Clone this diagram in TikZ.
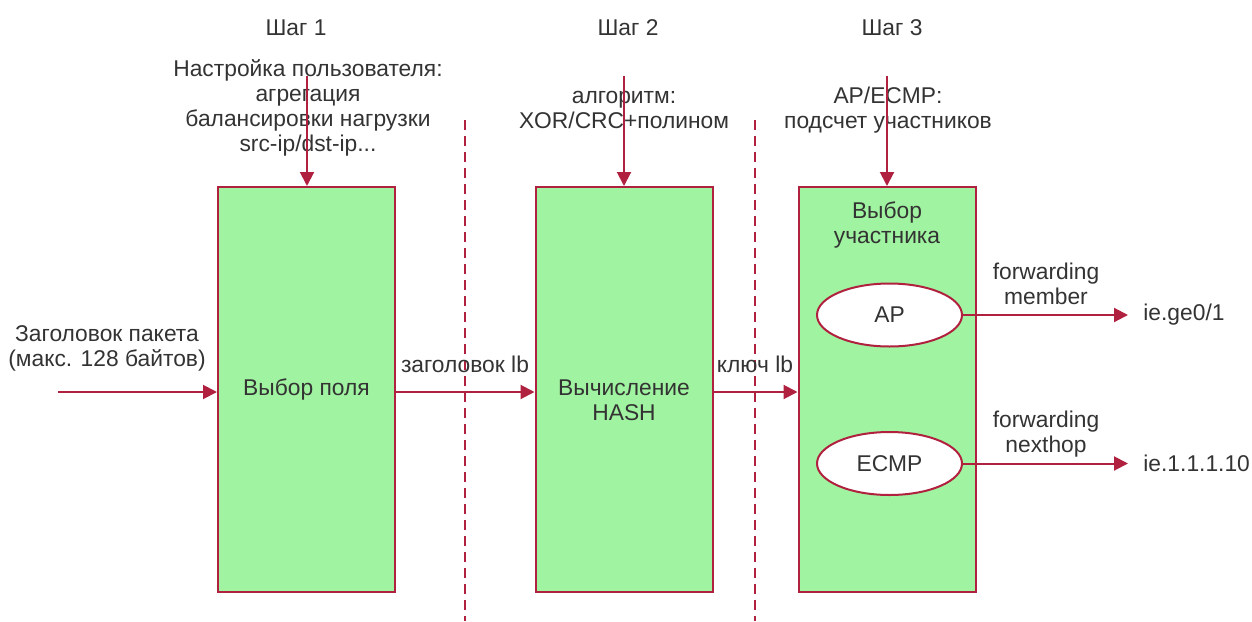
\documentclass[tikz,border=0pt]{standalone}
\usepackage{fontspec}
\setmainfont{Liberation Sans}
\usetikzlibrary{arrows.meta,shapes.geometric}
\definecolor{lbred}{HTML}{B0213F}
\definecolor{lbgreen}{HTML}{A0F3A0}
\definecolor{lbtext}{HTML}{333333}

\begin{document}
\begin{tikzpicture}[x=0.5pt,y=-0.5pt,
  font=\fontsize{11.4}{12.4}\selectfont,text=lbtext,
  blk/.style={draw=lbred,line width=1pt,fill=lbgreen,minimum width=88.5pt,minimum height=202.5pt,inner sep=0pt},
  memb/.style={ellipse,draw=lbred,line width=1pt,fill=white,minimum width=72.5pt,minimum height=31.5pt,inner sep=0pt},
  arr/.style={draw=lbred,line width=1pt,-{Triangle[length=7pt,width=7pt]}},
  sep/.style={draw=lbred,line width=1pt,dash pattern=on 5pt off 3pt},
  txt/.style={align=center,inner sep=0pt}]
\useasboundingbox (0,0) rectangle (1252,621);
\draw[sep] (465,120) -- (465,621);
\draw[sep] (755,120) -- (755,621);
\node[blk] (b1) at (306.5,389.5) {Выбор поля};
\node[blk] (b2) at (624,389.5) {};
\node[txt] (b2t) at (624,400) {Вычисление\\HASH};
\node[blk] (b3) at (887,389.5) {};
\node[txt] (b3t) at (887,225) {Выбор\\участника};
\node[memb] (ap) at (889.5,315) {AP};
\node[memb] (ecmp) at (889.5,463.5) {ECMP};
\node[txt] (s1) at (296,28) {Шаг 1};
\node[txt] (s2) at (628,28) {Шаг 2};
\node[txt] (s3) at (892,28) {Шаг 3};
\node[txt] (cfg1) at (308,108) {Настройка пользователя:\\агрегация\\балансировки нагрузки\\src-ip/dst-ip...};
\node[txt] (cfg2) at (624,110) {алгоритм:\\XOR/CRC+полином};
\node[txt] (cfg3) at (888,110) {AP/ECMP:\\подсчет участников};
\node[txt] (hdr) at (107,348) {Заголовок пакета\\(макс. 128 байтов)};
\node[txt] (lbhdr) at (465,364) {заголовок lb};
\node[txt] (lbkey) at (755,364) {ключ lb};
\node[txt] (fwm) at (1046,284) {forwarding\\member};
\node[txt] (fwn) at (1046,434) {forwarding\\nexthop};
\node[anchor=west,inner xsep=7.5pt] (o1) at (1128,315) {ie.ge0/1};
\node[anchor=west,inner xsep=7.5pt] (o2) at (1128,463.5) {ie.1.1.1.10};
\coordinate (pin) at (58,392);
\coordinate (t1) at (307,76);
\coordinate (t2) at (624,76);
\coordinate (t3) at (887,76);
\draw[arr] (pin) -- (pin -| b1.west);
\draw[arr] (b1.east |- pin) -- (b2.west |- pin);
\draw[arr] (b2.east |- pin) -- (b3.west |- pin);
\draw[arr] (t1) -- (t1 |- b1.north);
\draw[arr] (t2) -- (t2 |- b2.north);
\draw[arr] (t3) -- (t3 |- b3.north);
\draw[arr] (ap) -- (o1);
\draw[arr] (ecmp) -- (o2);
\end{tikzpicture}
\end{document}
